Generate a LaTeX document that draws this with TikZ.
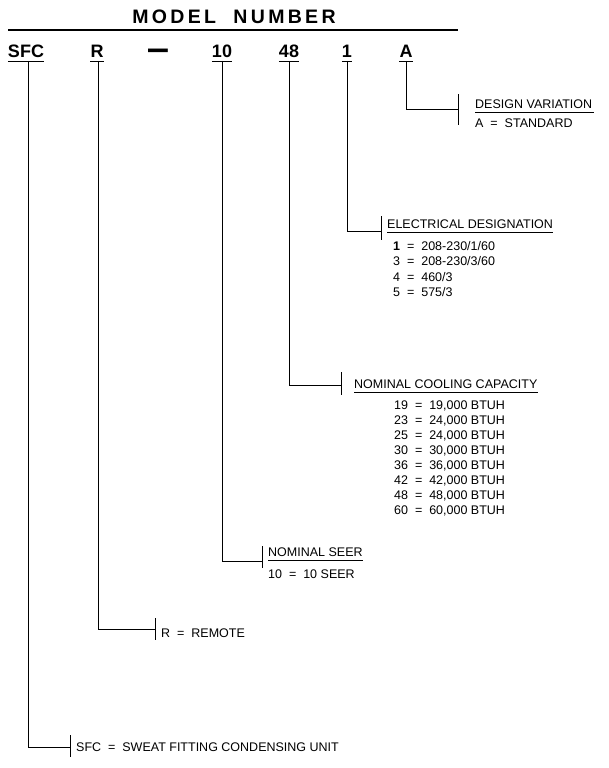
\documentclass[tikz,border=0pt]{standalone}
\usepackage{fontspec}
\setmainfont{Liberation Sans}
\newfontfamily\titlefont{Liberation Sans}[LetterSpace=17]
\begin{document}
\begin{tikzpicture}[x=1pt,y=-1pt,
  lbl/.style={anchor=base west,inner sep=0pt,font=\fontsize{12.5}{14}\selectfont},
  codetxt/.style={anchor=base,inner sep=0pt,font=\bfseries\fontsize{18}{20}\selectfont},
  ln/.style={line width=1pt},
  uln/.style={line width=0.9pt},
]
\useasboundingbox (0,0) rectangle (608,768);
% title
\node[anchor=base,inner sep=0pt,font=\titlefont\bfseries\fontsize{19.5}{22}\selectfont] (title) at (234,24) {MODEL\ \ NUMBER};
\draw[line width=2.2pt] (8,30) -- (340,30);
\draw[line width=1.3pt] (340,30) -- (458,30);
% codes
\node[codetxt] (c1) at (26,57) {SFC};
\node[codetxt] (c2) at (97,57) {R};
\node[codetxt] (cd) at (158,57) {\raisebox{-4pt}{\scalebox{1.1}[2]{—}}};
\node[codetxt] (c3) at (222,57) {10};
\node[codetxt] (c4) at (289,57) {48};
\node[codetxt] (c5) at (347,57) {1};
\node[codetxt] (c6) at (406,57) {A};
\foreach \c in {c1,c2,c3,c4,c5,c6}
  \draw[uln] ([yshift=-4pt]\c.base west) -- ([yshift=-4pt]\c.base east);
% tick coordinates
\coordinate (k1) at (70,747);
\coordinate (k2) at (155,629);
\coordinate (k3) at (262,561);
\coordinate (k4) at (341,385);
\coordinate (k5) at (381,231);
\coordinate (k6) at (458,109);
% connectors
\draw[ln] ([xshift=2pt,yshift=-4pt]c1.base) |- (k1);
\draw[ln] ([xshift=1pt,yshift=-4pt]c2.base) |- (k2);
\draw[ln] ([yshift=-4pt]c3.base) |- (k3);
\draw[ln] ([yshift=-4pt]c4.base) |- (k4);
\draw[ln] ([yshift=-4pt]c5.base) |- (k5);
\draw[ln] ([yshift=-4pt]c6.base) |- (k6);
% ticks
\draw[ln] ([yshift=12pt]k1) -- ([yshift=-10pt]k1);
\draw[ln] ([yshift=11pt]k2) -- ([yshift=-11pt]k2);
\draw[ln] ([yshift=15pt]k3) -- ([yshift=-7pt]k3);
\draw[ln] ([yshift=13pt]k4) -- ([yshift=-10pt]k4);
\draw[ln] ([yshift=15pt]k5) -- ([yshift=-9pt]k5);
\draw[ln] ([yshift=15pt]k6) -- ([yshift=-16pt]k6);
% design variation
\node[lbl] (h6) at (475,108) {DESIGN VARIATION};
\draw[uln] ([yshift=-4pt]h6.base west) -- ([yshift=-4pt,xshift=2pt]h6.base east);
\node[lbl] (v6) at (475,127) {A\ \ =\ \ STANDARD};
% electrical designation
\node[lbl] (h5) at (387,228) {ELECTRICAL DESIGNATION};
\draw[uln] ([yshift=-4pt]h5.base west) -- ([yshift=-4pt]h5.base east);
\node[lbl] (v51) at (393,250) {\textbf{1}\ \ =\ \ 208-230/1/60};
\node[lbl] (v52) at (393,265.5) {3\ \ =\ \ 208-230/3/60};
\node[lbl] (v53) at (393,281) {4\ \ =\ \ 460/3};
\node[lbl] (v54) at (393,296.5) {5\ \ =\ \ 575/3};
% nominal cooling capacity
\node[lbl] (h4) at (354,388) {NOMINAL COOLING CAPACITY};
\draw[uln] ([yshift=-4pt]h4.base west) -- ([yshift=-4pt]h4.base east);
\node[lbl] (v41) at (394,409.5) {19\ \ =\ \ 19,000 BTUH};
\node[lbl] (v42) at (394,424.5) {23\ \ =\ \ 24,000 BTUH};
\node[lbl] (v43) at (394,439.5) {25\ \ =\ \ 24,000 BTUH};
\node[lbl] (v44) at (394,454.5) {30\ \ =\ \ 30,000 BTUH};
\node[lbl] (v45) at (394,469.5) {36\ \ =\ \ 36,000 BTUH};
\node[lbl] (v46) at (394,484.5) {42\ \ =\ \ 42,000 BTUH};
\node[lbl] (v47) at (394,499.5) {48\ \ =\ \ 48,000 BTUH};
\node[lbl] (v48) at (394,514.5) {60\ \ =\ \ 60,000 BTUH};
% nominal seer
\node[lbl] (h3) at (268,556) {NOMINAL SEER};
\draw[uln] ([yshift=-4pt]h3.base west) -- ([yshift=-4pt]h3.base east);
\node[lbl] (v3) at (268,578) {10\ \ =\ \ 10 SEER};
% remote
\node[lbl] (v2) at (161,637.5) {R\ \ =\ \ REMOTE};
% sfc
\node[lbl] (v1) at (76,751.5) {SFC\ \ =\ \ SWEAT FITTING CONDENSING UNIT};
\end{tikzpicture}
\end{document}
